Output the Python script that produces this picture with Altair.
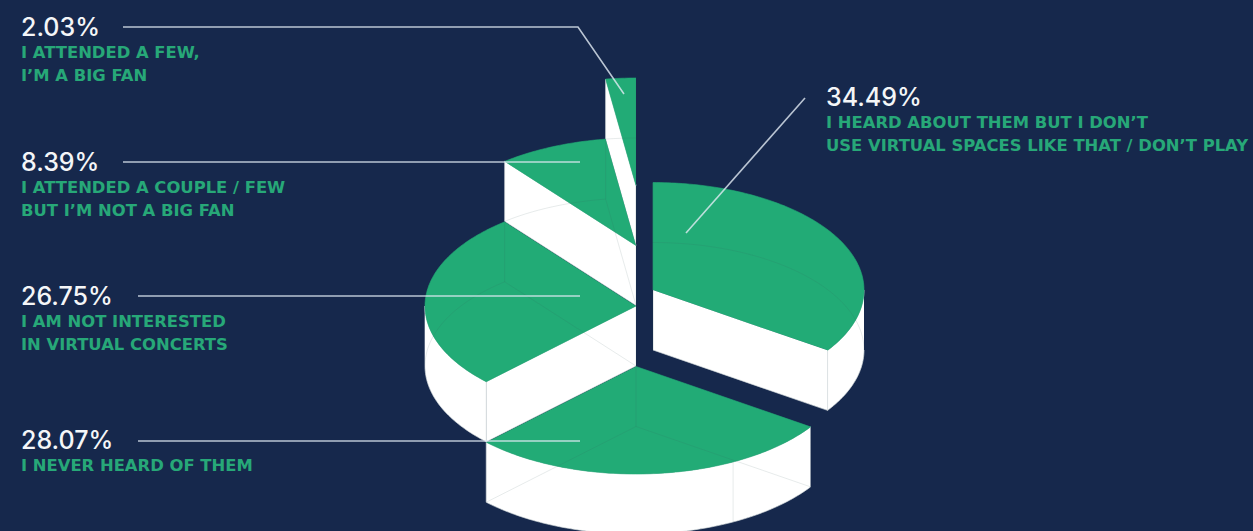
import math
import altair as alt
import pandas as pd

# Survey shares, clockwise from twelve o'clock
shares = [34.49, 28.07, 26.75, 8.39, 2.03]
pct_labels = ["34.49%", "28.07%", "26.75%", "8.39%", "2.03%"]
answers = [
    ["I HEARD ABOUT THEM BUT I DON\u2019T", "USE VIRTUAL SPACES LIKE THAT / DON\u2019T PLAY"],
    ["I NEVER HEARD OF THEM"],
    ["I AM NOT INTERESTED", "IN VIRTUAL CONCERTS"],
    ["I ATTENDED A COUPLE / FEW", "BUT I\u2019M NOT A BIG FAN"],
    ["I ATTENDED A FEW,", "I\u2019M A BIG FAN"],
]

W, H = 1253, 531
BG, GREEN, WHITE = "#16284c", "#22ab76", "#ffffff"

# Projected pie: each slice has its own apex so the wedges read as pulled apart
RX, RY, DEPTH = 211, 107.5, 60
apexes = [(653, 290), (636, 366.5), (636, 306), (636, 245.5), (636, 185.5)]
label_anchor = [(826, 106), (21, 449), (21, 305), (21, 171), (21, 36)]
leaders = [
    [(805, 98), (686, 233)],
    [(138, 441), (580, 441)],
    [(138, 296), (580, 296)],
    [(123, 162), (580, 162)],
    [(123, 27), (578, 27), (624, 94)],
]


def rim(apex, deg, drop=0):
    t = math.radians(deg)
    return apex[0] + RX * math.sin(t), apex[1] - RY * math.cos(t) + drop


def arc(apex, a, b, drop=0):
    n = max(2, int(abs(b - a)) + 1)
    return [rim(apex, a + (b - a) * i / (n - 1), drop) for i in range(n)]


def down(p, drop=DEPTH):
    return p[0], p[1] + drop


pid = 0


def add(rows, pts):
    global pid
    rows.extend({"x": x, "y": y, "poly": pid, "seq": i} for i, (x, y) in enumerate(pts))
    pid += 1


# The shares fall just short of 100, so the last wedge closes the circle
spans = []
start = 0.0
for s in shares:
    spans.append((start, start + 3.6 * s))
    start += 3.6 * s
spans[-1] = (spans[-1][0], 360.0)

x_enc = alt.X("x:Q", scale=alt.Scale(domain=[0, W], nice=False, zero=False), axis=None)
y_enc = alt.Y("y:Q", scale=alt.Scale(domain=[H, 0], nice=False, zero=False), axis=None)


def polygons(rows, fill):
    return (
        alt.Chart(pd.DataFrame(rows))
        .mark_line(fill=fill, stroke=fill, strokeWidth=0.6, clip=True)
        .encode(x=x_enc, y=y_enc, detail="poly:N", order="seq:Q")
    )


def wireframe(rows):
    return (
        alt.Chart(pd.DataFrame(rows))
        .mark_line(stroke="#3d5a5a", strokeWidth=1, opacity=0.12, clip=True)
        .encode(x=x_enc, y=y_enc, detail="poly:N", order="seq:Q")
    )


layers = []
# Back slices first so the nearer ones overlap them; the offset slice goes last
for i in [4, 3, 2, 1, 0]:
    apex = apexes[i]
    a, b = spans[i]
    sides, top, wire = [], [], []
    if a > 180:
        add(sides, [apex, rim(apex, a), rim(apex, a, DEPTH), down(apex)])
    if b < 180:
        add(sides, [apex, rim(apex, b), rim(apex, b, DEPTH), down(apex)])
    lo, hi = max(a, 90), min(b, 270)
    if lo < hi:
        add(sides, arc(apex, lo, hi) + arc(apex, hi, lo, DEPTH))
    add(top, [apex] + arc(apex, a, b))
    # Hidden edges of the solid show through faintly
    add(wire, [rim(apex, a, DEPTH), down(apex), rim(apex, b, DEPTH)])
    add(wire, arc(apex, a, b, DEPTH))
    for p in [apex, rim(apex, a), rim(apex, b)]:
        add(wire, [p, down(p)])
    if i == 1:
        add(wire, [rim(apex, 152.6), rim(apex, 152.6, DEPTH)])
    if sides:
        layers.append(polygons(sides, WHITE))
    layers.append(polygons(top, GREEN))
    layers.append(wireframe(wire))

# Leader lines
leader_rows = []
for pts in leaders:
    add(leader_rows, pts)
layers.append(
    alt.Chart(pd.DataFrame(leader_rows))
    .mark_line(stroke="#e4ecf5", strokeWidth=1.6, opacity=0.8, clip=True)
    .encode(x=x_enc, y=y_enc, detail="poly:N", order="seq:Q")
)

# Percentages and answer captions
pct_rows, cap_rows = [], []
for i, (x, y) in enumerate(label_anchor):
    pct_rows.append({"x": x, "y": y, "t": pct_labels[i]})
    for j, line in enumerate(answers[i]):
        cap_rows.append({"x": x, "y": y + 22 + 23 * j, "t": line})

layers.append(
    alt.Chart(pd.DataFrame(pct_rows))
    .mark_text(align="left", baseline="alphabetic", font="Inter", fontSize=25, fontWeight=500, color="#f4f6f8")
    .encode(x=x_enc, y=y_enc, text="t:N")
)
layers.append(
    alt.Chart(pd.DataFrame(cap_rows))
    .mark_text(align="left", baseline="alphabetic", font="DejaVu Sans", fontSize=16.4, fontWeight=700, color="#27a878")
    .encode(x=x_enc, y=y_enc, text="t:N")
)

chart = (
    alt.layer(*layers)
    .properties(
        width=W,
        height=H,
        background=BG,
        padding=0,
        autosize=alt.AutoSizeParams(type="none"),
    )
    .configure_view(stroke=None)
)

chart.save("out.html", embed_options={"renderer": "svg", "actions": False})
